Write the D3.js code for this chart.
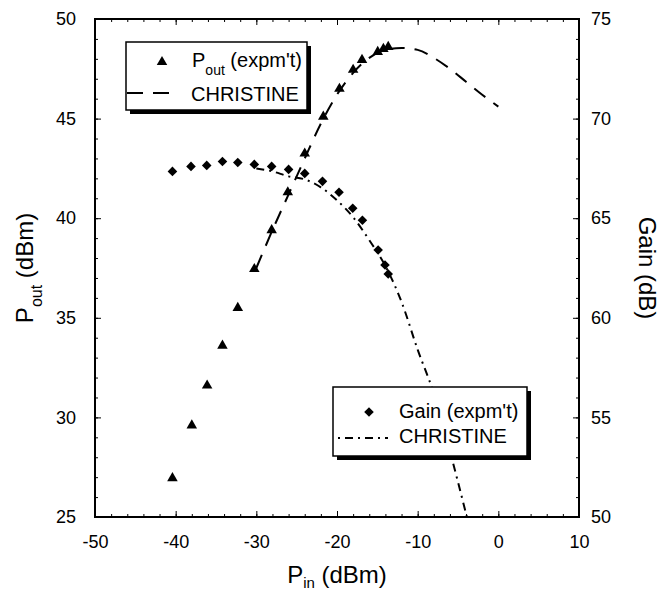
<!DOCTYPE html>
<html>
<head>
<meta charset="utf-8">
<script src="https://cdn.jsdelivr.net/npm/d3@7"></script>
<style>
  html, body { margin: 0; padding: 0; background: #fff; }
  svg { display: block; font-family: "Liberation Sans", Arial, Helvetica, sans-serif; }
</style>
</head>
<body>
<svg id="chart" width="660" height="594"></svg>
<script>
// Measured input power (dBm) for the output-power points
const pinPout = [-40.4, -38.0, -36.1, -34.2, -32.3, -30.25, -28.1, -26.1, -24.0, -21.7, -19.7, -18.0, -16.9, -14.95, -14.25, -13.65];
// Measured output power (dBm)
const poutMeasured = [26.95, 29.6, 31.6, 33.6, 35.5, 37.45, 39.4, 41.3, 43.25, 45.1, 46.5, 47.45, 47.95, 48.35, 48.5, 48.6];

// Measured input power (dBm) for the gain points
const pinGain = [-40.4, -38.1, -36.15, -34.2, -32.3, -30.25, -28.1, -26.0, -24.0, -21.8, -19.75, -18.05, -16.85, -14.9, -14.05, -13.65];
// Measured gain (dB)
const gainMeasured = [67.35, 67.6, 67.65, 67.85, 67.8, 67.7, 67.6, 67.45, 67.25, 66.85, 66.3, 65.5, 64.9, 63.4, 62.65, 62.2];

// CHRISTINE simulation: output power vs input power
const simPoutPin = [-30, -28, -26, -24, -22, -20, -18, -16, -14, -12, -10, -8, -6, -4, -2, 0];
const simPout    = [37.5, 39.4, 41.2, 43.0, 44.75, 46.2, 47.3, 48.05, 48.45, 48.55, 48.45, 48.05, 47.5, 46.85, 46.2, 45.6];

// CHRISTINE simulation: gain vs input power
const simGainPin = [-30, -28, -26, -24, -22, -20, -18, -16, -14, -12, -10, -8, -6, -3.9];
const simGain    = [67.5, 67.35, 67.1, 66.95, 66.55, 65.9, 65.05, 63.9, 62.6, 60.8, 58.4, 56.2, 53.3, 50.0];

// Axis ticks
const xTicks = [-50, -40, -30, -20, -10, 0, 10];
const yLeftTicks = [25, 30, 35, 40, 45, 50];
const yRightTicks = [50, 55, 60, 65, 70, 75];

const svg = d3.select("#chart");
const m = { left: 95, right: 579, top: 19, bottom: 517 };

const x = d3.scaleLinear().domain([-50, 10]).range([m.left, m.right]);
const yL = d3.scaleLinear().domain([25, 50]).range([m.bottom, m.top]);
const yR = d3.scaleLinear().domain([50, 75]).range([m.bottom, m.top]);

svg.append("defs").append("clipPath").attr("id", "plotClip")
  .append("rect")
  .attr("x", m.left).attr("y", m.top)
  .attr("width", m.right - m.left).attr("height", m.bottom - m.top);

// Plain hyphen-minus labels
const fmt = d => String(d);

// Ticks (all pointing into the plot)
function styleAxis(g) {
  g.select(".domain").remove();
  g.selectAll(".tick line").attr("stroke", "#000").attr("stroke-width", 1);
  g.selectAll(".tick text").attr("fill", "#000").attr("font-size", 18)
    .attr("font-family", "Liberation Sans, Arial, sans-serif");
}
const xMinor = d3.range(-50, 10.01, 2);
const yMinor = d3.range(25, 50.01, 1);
const yRMinor = d3.range(50, 75.01, 1);

svg.append("g").attr("transform", `translate(0,${m.bottom})`)
  .call(d3.axisBottom(x).tickValues(xMinor).tickSize(-3).tickFormat("")).call(styleAxis);
svg.append("g").attr("transform", `translate(0,${m.bottom})`)
  .call(d3.axisBottom(x).tickValues(xTicks).tickSize(-6).tickPadding(14).tickFormat(fmt))
  .call(styleAxis)
  .call(g => g.selectAll(".tick text").attr("dy", "0.95em"));

svg.append("g").attr("transform", `translate(0,${m.top})`)
  .call(d3.axisTop(x).tickValues(xMinor).tickSize(-3).tickFormat("")).call(styleAxis);
svg.append("g").attr("transform", `translate(0,${m.top})`)
  .call(d3.axisTop(x).tickValues(xTicks).tickSize(-6).tickFormat("")).call(styleAxis);

svg.append("g").attr("transform", `translate(${m.left},0)`)
  .call(d3.axisLeft(yL).tickValues(yMinor).tickSize(-3).tickFormat("")).call(styleAxis);
svg.append("g").attr("transform", `translate(${m.left},0)`)
  .call(d3.axisLeft(yL).tickValues(yLeftTicks).tickSize(-6).tickPadding(19).tickFormat(fmt))
  .call(styleAxis);

svg.append("g").attr("transform", `translate(${m.right},0)`)
  .call(d3.axisRight(yR).tickValues(yRMinor).tickSize(-3).tickFormat("")).call(styleAxis);
svg.append("g").attr("transform", `translate(${m.right},0)`)
  .call(d3.axisRight(yR).tickValues(yRightTicks).tickSize(-6).tickPadding(12).tickFormat(fmt))
  .call(styleAxis);

// Curves
const plot = svg.append("g").attr("clip-path", "url(#plotClip)");

const poutLine = d3.line().x(d => x(d[0])).y(d => yL(d[1])).curve(d3.curveMonotoneX);
plot.append("path")
  .datum(simPoutPin.map((p, i) => [p, simPout[i]]))
  .attr("d", poutLine)
  .attr("fill", "none").attr("stroke", "#000").attr("stroke-width", 2)
  .attr("stroke-dasharray", "14,10");

const gainLine = d3.line().x(d => x(d[0])).y(d => yR(d[1])).curve(d3.curveMonotoneX);
plot.append("path")
  .datum(simGainPin.map((p, i) => [p, simGain[i]]))
  .attr("d", gainLine)
  .attr("fill", "none").attr("stroke", "#000").attr("stroke-width", 2)
  .attr("stroke-dasharray", "8,5,2,5");

// Markers
const tri = d3.symbol().type(d3.symbolTriangle).size(48);
const dia = d3.symbol().type(d3.symbolSquare).size(46);

plot.append("g").selectAll("path")
  .data(pinPout.map((p, i) => [p, poutMeasured[i]]))
  .join("path")
  .attr("d", tri)
  .attr("transform", d => `translate(${x(d[0])},${yL(d[1])})`)
  .attr("fill", "#000");

plot.append("g").selectAll("path")
  .data(pinGain.map((p, i) => [p, gainMeasured[i]]))
  .join("path")
  .attr("d", dia)
  .attr("transform", d => `translate(${x(d[0])},${yR(d[1])}) rotate(45)`)
  .attr("fill", "#000");

// Plot frame
svg.append("rect")
  .attr("x", m.left).attr("y", m.top)
  .attr("width", m.right - m.left).attr("height", m.bottom - m.top)
  .attr("fill", "none").attr("stroke", "#000").attr("stroke-width", 2);

// Axis titles
const xt = svg.append("text").attr("x", 337).attr("y", 583)
  .attr("text-anchor", "middle").attr("font-size", 24).attr("fill", "#000");
xt.append("tspan").text("P");
xt.append("tspan").attr("font-size", 15).attr("dy", 5).text("in");
xt.append("tspan").attr("dy", -5).text(" (dBm)");

const ylt = svg.append("text")
  .attr("transform", "translate(33,268) rotate(-90)")
  .attr("text-anchor", "middle").attr("font-size", 24).attr("fill", "#000");
ylt.append("tspan").text("P");
ylt.append("tspan").attr("font-size", 16).attr("dy", 9).text("out");
ylt.append("tspan").attr("dy", -9).text(" (dBm)");

svg.append("text")
  .attr("transform", "translate(639,268) rotate(90)")
  .attr("text-anchor", "middle").attr("font-size", 24).attr("fill", "#000")
  .text("Gain (dB)");

// Legend boxes with drop shadow
function legendBox(x0, y0, w, h) {
  const g = svg.append("g");
  g.append("rect").attr("x", x0 + 4).attr("y", y0 + 4).attr("width", w).attr("height", h).attr("fill", "#000");
  g.append("rect").attr("x", x0).attr("y", y0).attr("width", w).attr("height", h)
    .attr("fill", "#fff").attr("stroke", "#000").attr("stroke-width", 1.5);
  return g;
}

const lg1 = legendBox(126, 42, 181, 68);
lg1.append("path").attr("d", tri).attr("transform", "translate(162,62)").attr("fill", "#000");
const t1 = lg1.append("text").attr("x", 192).attr("y", 67).attr("font-size", 20).attr("fill", "#000");
t1.append("tspan").text("P");
t1.append("tspan").attr("font-size", 14).attr("dy", 8).text("out");
t1.append("tspan").attr("dy", -8).text(" (expm't)");
lg1.append("line").attr("x1", 126).attr("x2", 170).attr("y1", 93).attr("y2", 93)
  .attr("stroke", "#000").attr("stroke-width", 2).attr("stroke-dasharray", "16,10").attr("stroke-dashoffset", -1);
lg1.append("text").attr("x", 191).attr("y", 101).attr("font-size", 20).attr("fill", "#000").text("CHRISTINE");

const lg2 = legendBox(333, 387, 194, 69);
lg2.append("path").attr("d", dia).attr("transform", "translate(369,412) rotate(45)").attr("fill", "#000");
lg2.append("text").attr("x", 399).attr("y", 418).attr("font-size", 20).attr("fill", "#000").text("Gain (expm't)");
lg2.append("line").attr("x1", 338).attr("x2", 388).attr("y1", 438).attr("y2", 438)
  .attr("stroke", "#000").attr("stroke-width", 2).attr("stroke-dasharray", "2,5,8,5");
lg2.append("text").attr("x", 399).attr("y", 443).attr("font-size", 20).attr("fill", "#000").text("CHRISTINE");
</script>
</body>
</html>
